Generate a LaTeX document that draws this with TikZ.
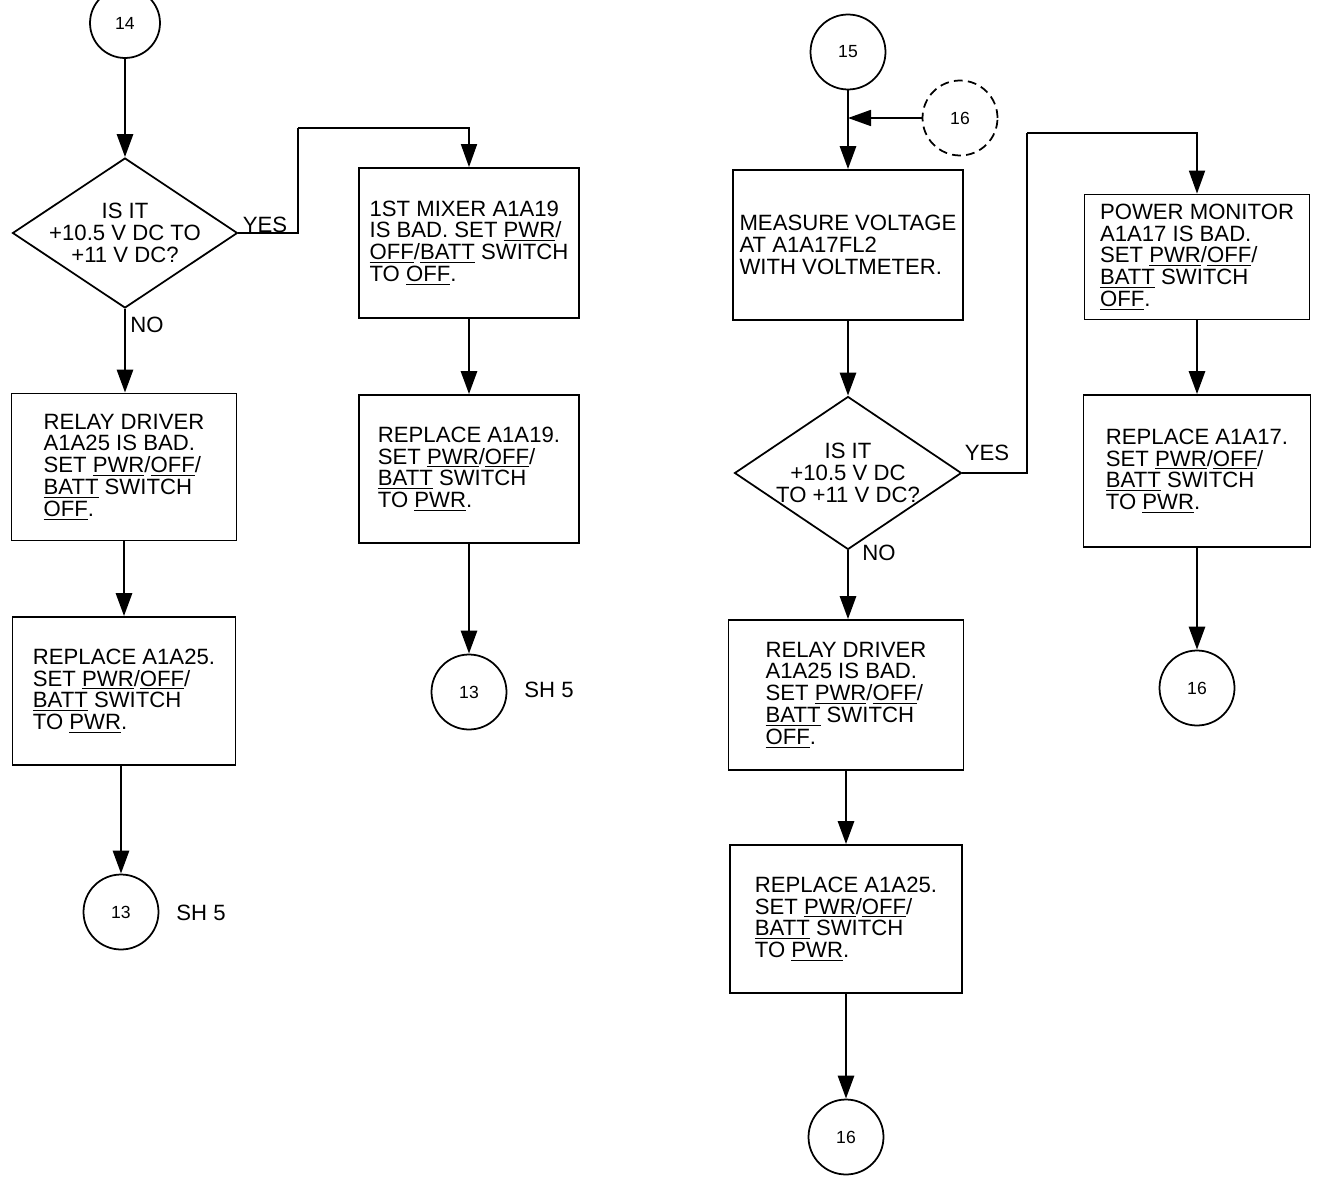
\documentclass[tikz,border=0pt]{standalone}
\usepackage{fontspec}
\setmainfont{Liberation Sans}
\usetikzlibrary{arrows.meta,positioning,shapes.geometric}
\tikzset{
    chart/.style     = {x=0.02cm, y=-0.02cm,
                        >={Triangle[length=4.6mm, width=3.2mm]}},
    flow/.style      = {->, line width=1.6pt},
    wire/.style      = {line width=1pt},
    box/.style       = {draw, line width=1pt, align=left, inner sep=2pt,
                        font=\fontsize{12.6}{12.4}\selectfont},
    decision/.style  = {draw, diamond, line width=1pt, inner sep=0pt},
    qtext/.style     = {align=center, font=\fontsize{12.6}{12.4}\selectfont},
    ref/.style       = {draw, circle, line width=1pt, minimum size=1.5cm,
                        font=\fontsize{10}{10}\selectfont},
    offref/.style    = {ref, dash pattern=on 5pt off 3pt},
    tag/.style       = {font=\fontsize{12.6}{12}\selectfont}
}
\newcommand{\undl}[1]{\underline{#1}}

\begin{document}
\begin{tikzpicture}[chart]
\useasboundingbox (0,0) rectangle (1318,1179);
% left branch from 14
\node[ref, minimum size=1.4cm] (c14) at (125,23) {14};
\node[decision, minimum width=4.5cm, minimum height=3cm] (q1) at (125,233) {};
\node[qtext] (q1text) at (q1) {IS IT\\+10.5 V DC TO\\+11 V DC?};
\node[box, minimum width=4.5cm, minimum height=2.94cm] (b1) at (124,467)
  {RELAY DRIVER\\A1A25 IS BAD.\\SET \undl{PWR}/\undl{OFF}/\\\undl{BATT} SWITCH\\\undl{OFF}.};
\node[box, minimum width=4.46cm, minimum height=2.96cm] (b2) at (124,691)
  {REPLACE A1A25.\\SET \undl{PWR}/\undl{OFF}/\\\undl{BATT} SWITCH\\TO \undl{PWR}.};
\node[ref] (c13a) at (121,912) {13};
\node[tag] (sh1) at (201,913) {SH 5};
\node[box, minimum width=4.4cm, minimum height=3cm] (m1) at (469,243)
  {1ST MIXER A1A19\\IS BAD. SET \undl{PWR}/\\\undl{OFF}/\undl{BATT} SWITCH\\TO \undl{OFF}.};
\node[box, minimum width=4.4cm, minimum height=2.96cm] (m2) at (469,469)
  {REPLACE A1A19.\\SET \undl{PWR}/\undl{OFF}/\\\undl{BATT} SWITCH\\TO \undl{PWR}.};
\node[ref] (c13b) at (469,692) {13};
\node[tag] (sh2) at (549,690) {SH 5};
\node[tag] (yes1) at (265,225) {YES};
\node[tag] (no1) at (147,325) {NO};
\coordinate (bend1) at (298,128);

\draw[flow] (c14) -- (q1.north);
\draw[flow] (q1.south) -- (q1.south |- b1.north);
\draw[flow] (b1.south) -- (b2.north);
\draw[flow] (b2.south -| c13a) -- (c13a.north);
\draw[wire] (q1.east) -| (bend1);
\draw[flow, line width=1pt] (bend1) -| (m1.north);
\draw[flow] (m1.south) -- (m2.north);
\draw[flow] (m2.south) -- (c13b.north);

% right branch from 15
\node[ref] (c15) at (848,52) {15};
\node[offref] (c16d) at (960,118) {16};
\node[box, minimum width=4.6cm, minimum height=3cm] (v1) at (848,245)
  {MEASURE VOLTAGE\\AT A1A17FL2\\WITH VOLTMETER.};
\node[decision, minimum width=4.54cm, minimum height=3.06cm] (q2) at (848,473) {};
\node[qtext] (q2text) at (q2) {IS IT\\+10.5 V DC\\TO +11 V DC?};
\node[box, minimum width=4.7cm, minimum height=3cm] (r1) at (846,695)
  {RELAY DRIVER\\A1A25 IS BAD.\\SET \undl{PWR}/\undl{OFF}/\\\undl{BATT} SWITCH\\\undl{OFF}.};
\node[box, minimum width=4.64cm, minimum height=2.96cm] (r2) at (846,919)
  {REPLACE A1A25.\\SET \undl{PWR}/\undl{OFF}/\\\undl{BATT} SWITCH\\TO \undl{PWR}.};
\node[ref] (c16a) at (846,1137) {16};
\node[box, minimum width=4.5cm, minimum height=2.5cm] (p1) at (1197,257)
  {POWER MONITOR\\A1A17 IS BAD.\\SET \undl{PWR}/\undl{OFF}/\\\undl{BATT} SWITCH\\\undl{OFF}.};
\node[box, minimum width=4.54cm, minimum height=3.04cm] (p2) at (1197,471)
  {REPLACE A1A17.\\SET \undl{PWR}/\undl{OFF}/\\\undl{BATT} SWITCH\\TO \undl{PWR}.};
\node[ref] (c16b) at (1197,688) {16};
\node[tag] (yes2) at (987,453) {YES};
\node[tag] (no2) at (879,553) {NO};
\coordinate (bend2) at (1027,133);
\coordinate (join15) at (c15 |- c16d);

\draw[flow] (c15) -- (v1.north);
\draw[flow, line width=1pt] (c16d.west) -- (join15);
\draw[flow] (v1.south) -- (q2.north);
\draw[flow] (q2.south) -- (q2.south |- r1.north);
\draw[flow] (r1.south) -- (r2.north);
\draw[flow] (r2.south) -- (c16a.north);
\draw[wire] (q2.east) -| (bend2);
\draw[flow, line width=1pt] (bend2) -| (p1.north);
\draw[flow] (p1.south) -- (p2.north);
\draw[flow] (p2.south) -- (c16b.north);
\end{tikzpicture}
\end{document}
